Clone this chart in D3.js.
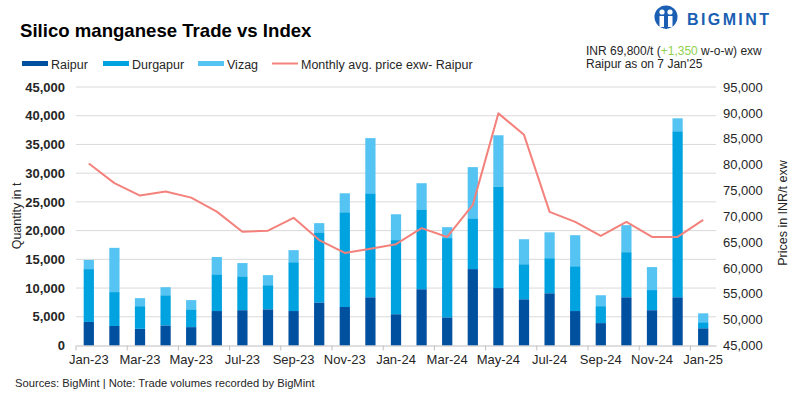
<!DOCTYPE html>
<html>
<head>
<meta charset="utf-8">
<script src="https://cdn.jsdelivr.net/npm/d3@7"></script>
<style>
  body { margin: 0; background: #fff; }
  svg { display: block; font-family: "Liberation Sans", Arial, sans-serif; }
</style>
</head>
<body>
<svg id="chart"></svg>
<script>
const width = 800;
const height = 398;

// data
const months = ['Jan-23','Feb-23','Mar-23','Apr-23','May-23','Jun-23','Jul-23','Aug-23','Sep-23','Oct-23','Nov-23','Dec-23',
  'Jan-24','Feb-24','Mar-24','Apr-24','May-24','Jun-24','Jul-24','Aug-24','Sep-24','Oct-24','Nov-24','Dec-24','Jan-25'];
const raipur   = [4100,3400,2900,3500,3200,6000,6150,6300,6000,7500,6700,8400,5450,9800,4900,13300,10000,8050,9100,6000,3900,8400,6150,8400,3000];
const durgapur = [9200,5900,3950,5250,3100,6400,5900,4200,8500,12200,16500,18100,12900,13900,13800,8850,17700,6100,6100,7800,2950,7850,3500,28900,1050];
const vizag    = [1600,7700,1400,1400,1600,3000,2300,1750,2100,1600,3300,9600,4500,4550,1900,8900,8900,4350,4500,5400,1900,4700,4000,2250,1550];
const price    = [80200,76400,74000,74800,73600,70900,67000,67200,69700,65400,62900,63700,64600,67700,66000,72200,89900,85750,70850,68900,66200,68900,66000,66000,69300];

const seriesNames = ['Raipur','Durgapur','Vizag'];
const lineName = 'Monthly avg. price exw- Raipur';
const colours = {Raipur: '#0050a0', Durgapur: '#00a2e0', Vizag: '#55c4f2', line: '#f4827c'};

const plot = {left: 76, right: 716, top: 87, bottom: 345.5};

const svg = d3.select('#chart')
    .attr('width', width)
    .attr('height', height);

const table = months.map((m, i) => ({month: m, Raipur: raipur[i], Durgapur: durgapur[i], Vizag: vizag[i], price: price[i]}));
const stacked = d3.stack().keys(seriesNames)(table);

const x = d3.scaleBand()
    .domain(months)
    .range([plot.left, plot.right])
    .paddingInner(0.6)
    .paddingOuter(0.3);
const yLeft = d3.scaleLinear().domain([0, 45000]).range([plot.bottom, plot.top]);
const yRight = d3.scaleLinear().domain([45000, 95000]).range([plot.bottom, plot.top]);
const xMid = d => x(d) + x.bandwidth() / 2;

// gridlines
svg.append('g')
  .selectAll('line')
  .data(yLeft.ticks(9).filter(v => v > 0))
  .join('line')
    .attr('x1', plot.left)
    .attr('x2', plot.right)
    .attr('y1', d => yLeft(d))
    .attr('y2', d => yLeft(d))
    .attr('stroke', '#d9d9d9')
    .attr('stroke-width', 1);

// bars
svg.append('g')
  .selectAll('g')
  .data(stacked)
  .join('g')
    .attr('fill', d => colours[d.key])
  .selectAll('rect')
  .data(d => d)
  .join('rect')
    .attr('x', d => x(d.data.month))
    .attr('width', x.bandwidth())
    .attr('y', d => yLeft(d[1]))
    .attr('height', d => yLeft(d[0]) - yLeft(d[1]));

// price line
svg.append('path')
    .datum(table)
    .attr('fill', 'none')
    .attr('stroke', colours.line)
    .attr('stroke-width', 2)
    .attr('stroke-linejoin', 'round')
    .attr('d', d3.line().x(d => xMid(d.month)).y(d => yRight(d.price)));

// x axis
const labelMonths = months.filter((m, i) => i % 2 === 0);
const xAxis = svg.append('g')
    .attr('transform', `translate(0,${plot.bottom})`)
    .call(d3.axisBottom(x).tickValues(labelMonths).tickSize(0).tickPadding(9));
xAxis.select('.domain').attr('stroke', '#bfbfbf');
xAxis.selectAll('text').attr('font-size', 13).attr('fill', '#262626');
xAxis.selectAll('.tickmark')
  .data(labelMonths)
  .join('line')
    .attr('class', 'tickmark')
    .attr('x1', d => x(d) - (x.step() - x.bandwidth()) / 2)
    .attr('x2', d => x(d) - (x.step() - x.bandwidth()) / 2)
    .attr('y1', 0)
    .attr('y2', 5)
    .attr('stroke', '#bfbfbf');

// left axis
const leftAxis = svg.append('g')
    .attr('transform', `translate(${plot.left - 9},0)`)
    .call(d3.axisLeft(yLeft).ticks(9).tickSize(0).tickPadding(2).tickFormat(d3.format(',')));
leftAxis.select('.domain').remove();
leftAxis.selectAll('text').attr('font-size', 13).attr('font-weight', 'bold').attr('fill', '#262626');

// right axis
const rightAxis = svg.append('g')
    .attr('transform', `translate(${plot.right + 5},0)`)
    .call(d3.axisRight(yRight).ticks(10).tickSize(0).tickPadding(2).tickFormat(d3.format(',')));
rightAxis.select('.domain').remove();
rightAxis.selectAll('text').attr('font-size', 13).attr('fill', '#262626');

// axis titles
svg.append('text')
    .attr('transform', 'translate(20.5,216) rotate(-90)')
    .attr('text-anchor', 'middle')
    .attr('font-size', 12.5)
    .attr('fill', '#262626')
    .text('Quantity in t');
svg.append('text')
    .attr('transform', 'translate(787,213) rotate(-90)')
    .attr('text-anchor', 'middle')
    .attr('font-size', 12.5)
    .attr('fill', '#262626')
    .text('Prices in INR/t exw');

// title
svg.append('text')
    .attr('x', 20)
    .attr('y', 36.5)
    .attr('font-size', 18.6)
    .attr('font-weight', 'bold')
    .attr('fill', '#000')
    .text('Silico manganese Trade vs Index');

// legend
const legendItems = [
  {name: 'Raipur', x: 22, type: 'bar'},
  {name: 'Durgapur', x: 103, type: 'bar'},
  {name: 'Vizag', x: 198, type: 'bar'},
  {name: lineName, x: 272, type: 'line'}
];
const legend = svg.append('g');
legend.selectAll('rect')
  .data(legendItems.filter(d => d.type === 'bar'))
  .join('rect')
    .attr('x', d => d.x)
    .attr('y', 61)
    .attr('width', 26)
    .attr('height', 5)
    .attr('fill', d => colours[d.name]);
legend.selectAll('line')
  .data(legendItems.filter(d => d.type === 'line'))
  .join('line')
    .attr('x1', d => d.x)
    .attr('x2', d => d.x + 26)
    .attr('y1', 63.5)
    .attr('y2', 63.5)
    .attr('stroke', colours.line)
    .attr('stroke-width', 2);
legend.selectAll('text')
  .data(legendItems)
  .join('text')
    .attr('x', d => d.x + 29)
    .attr('y', 69)
    .attr('font-size', 12.5)
    .attr('fill', '#262626')
    .text(d => d.name);

// price note
const note = svg.append('text')
    .attr('x', 586)
    .attr('y', 55)
    .attr('font-size', 12)
    .attr('fill', '#262626');
note.append('tspan').text('INR 69,800/t (');
note.append('tspan').attr('fill', '#8fd14f').text('+1,350');
note.append('tspan').text(' w-o-w) exw');
svg.append('text')
    .attr('x', 586)
    .attr('y', 68)
    .attr('font-size', 12)
    .attr('fill', '#262626')
    .text("Raipur as on 7 Jan'25");

// logo
const logo = svg.append('g').attr('transform', 'translate(666,17)');
logo.append('circle').attr('r', 11.5).attr('fill', '#1a5fb4');
logo.append('circle').attr('cx', -4).attr('cy', -5).attr('r', 2.6).attr('fill', '#fff');
logo.append('circle').attr('cx', 4).attr('cy', -5).attr('r', 2.6).attr('fill', '#fff');
logo.append('rect').attr('x', -6.5).attr('y', -1).attr('width', 4.5).attr('height', 11).attr('fill', '#fff');
logo.append('rect').attr('x', 2).attr('y', -1).attr('width', 4.5).attr('height', 11).attr('fill', '#fff');
logo.append('rect').attr('x', -1).attr('y', -10).attr('width', 2).attr('height', 22).attr('fill', '#1a5fb4');
svg.append('text')
    .attr('x', 687)
    .attr('y', 25)
    .attr('font-size', 16)
    .attr('font-weight', 'bold')
    .attr('letter-spacing', 2.4)
    .attr('fill', '#1a5fb4')
    .text('BIGMINT');

// footer
svg.append('text')
    .attr('x', 15)
    .attr('y', 386.5)
    .attr('font-size', 11.2)
    .attr('fill', '#262626')
    .text('Sources: BigMint | Note: Trade volumes recorded by BigMint');
</script>
</body>
</html>
